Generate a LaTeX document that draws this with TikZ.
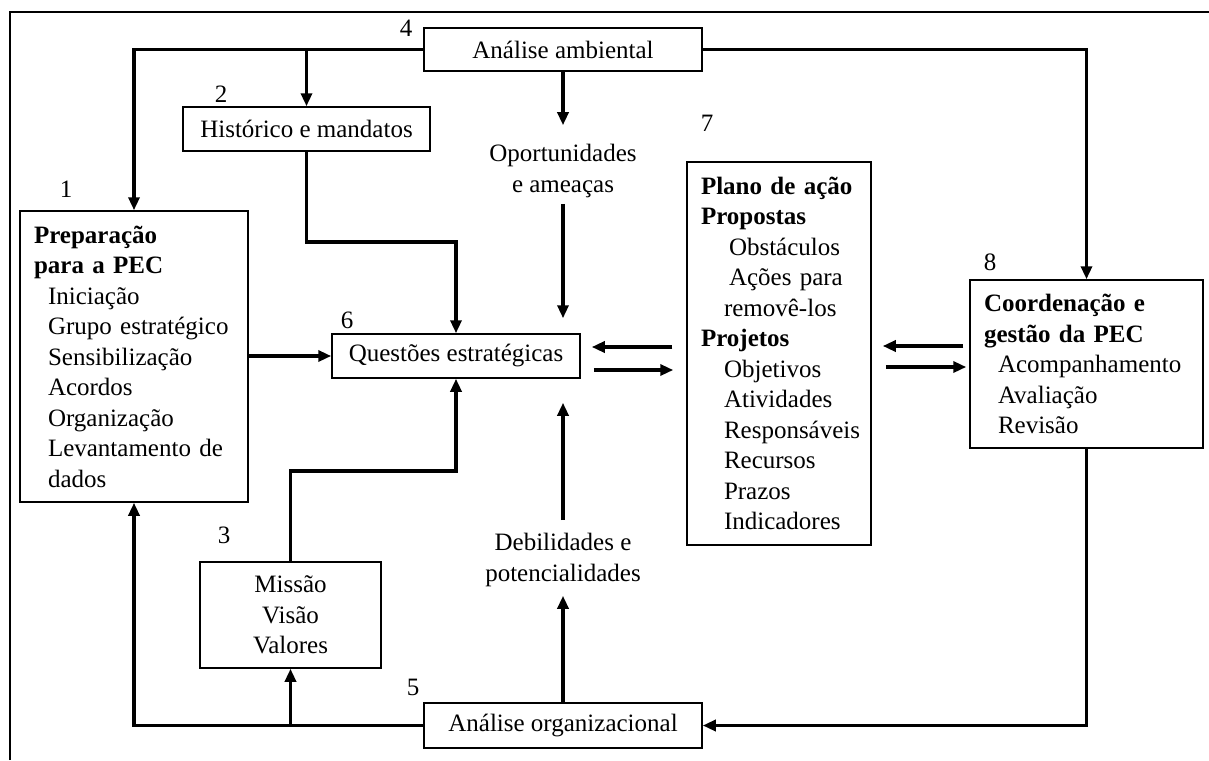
\documentclass[tikz,border=0pt]{standalone}
\usepackage{fontspec}
\setmainfont{Liberation Serif}
\usetikzlibrary{arrows.meta}
\begin{document}
\begin{tikzpicture}[x=1pt,y=-1pt,
  every node/.style={font=\fontsize{25}{30.5}\selectfont},
  box/.style={draw, line width=1.5pt, inner xsep=14pt, inner ysep=0pt, align=center},
  tbox/.style={box, align=left},
  conn/.style={line width=3.5pt, -{Triangle[length=13pt,width=11pt]}},
  num/.style={inner sep=0pt},
  lbl/.style={inner sep=0pt, align=center}]
\useasboundingbox (0,0) rectangle (1209,760);
% frame
\draw[line width=2.8pt] (10,760) -- (10,12) -- (1209,12);

% boxes
\node[box, minimum width=278pt, minimum height=43pt] (a4) at (563,49.5) {Análise ambiental};
\node[box, minimum width=247pt, minimum height=44pt] (b2) at (306.5,129) {Histórico e mandatos};
\node[tbox, text width=200pt, minimum width=228pt, minimum height=291pt] (b1) at (134,356.5)
  {\mbox{\textbf{Preparação}}\\\mbox{\textbf{para a PEC}}\\\mbox{\hspace*{14pt}Iniciação}\\\mbox{\hspace*{14pt}Grupo estratégico}\\\mbox{\hspace*{14pt}Sensibilização}\\\mbox{\hspace*{14pt}Acordos}\\\mbox{\hspace*{14pt}Organização}\\\mbox{\hspace*{14pt}Levantamento de}\\\mbox{\hspace*{14pt}dados}};
\node[box, minimum width=248pt, minimum height=44pt] (qs) at (456,356) {Questões estratégicas};
\node[tbox, text width=156pt, minimum width=184pt, minimum height=383pt] (b7) at (779,353.5)
  {\mbox{\textbf{Plano de ação}}\\\mbox{\textbf{Propostas}}\\\mbox{\hspace*{28pt}Obstáculos}\\\mbox{\hspace*{28pt}Ações para}\\\mbox{\hspace*{23pt}removê-los}\\\mbox{\textbf{Projetos}}\\\mbox{\hspace*{23pt}Objetivos}\\\mbox{\hspace*{23pt}Atividades}\\\mbox{\hspace*{23pt}Responsáveis}\\\mbox{\hspace*{23pt}Recursos}\\\mbox{\hspace*{23pt}Prazos}\\\mbox{\hspace*{23pt}Indicadores}};
\node[tbox, text width=205pt, minimum width=233pt, minimum height=168pt] (b8) at (1086.5,364)
  {\mbox{\textbf{Coordenação e}}\\\mbox{\textbf{gestão da PEC}}\\\mbox{\hspace*{14pt}Acompanhamento}\\\mbox{\hspace*{14pt}Avaliação}\\\mbox{\hspace*{14pt}Revisão}};
\node[box, minimum width=181pt, minimum height=106pt] (b3) at (290.5,615) {Missão\\Visão\\Valores};
\node[box, minimum width=278pt, minimum height=45pt] (a5) at (563,725.5) {Análise organizacional};

% labels
\node[lbl] (op) at (563,171) {Oportunidades\\e ameaças};
\node[lbl] (deb) at (563,560) {Debilidades e\\potencialidades};

% numbers
\node[num] (n1) at (66,189) {1};
\node[num] (n2) at (221,94.5) {2};
\node[num] (n3) at (224,535) {3};
\node[num] (n4) at (406,28.5) {4};
\node[num] (n5) at (413,687) {5};
\node[num] (n6) at (347,320) {6};
\node[num] (n7) at (707,123) {7};
\node[num] (n8) at (990,262.5) {8};

% connectors
\draw[conn] (a4.west) -| (b1.north);
\draw[conn] (b2.north |- a4.west) -- (b2.north);
\draw[conn] (a4.east) -| (b8.north);
\draw[conn, shorten >=19pt] (a4.south) -- (op.north);
\draw[conn, shorten <=6pt, shorten >=15pt] (op.south) -- (op.south |- qs.north);
\coordinate (h2) at (456,242);
\draw[conn] (b2.south) |- (h2) -- (qs.north);
\coordinate (h3) at (456,471);
\draw[conn] (b3.north) |- (h3) -- (qs.south);
\draw[conn] (b1.east |- qs.west) -- (qs.west);
\coordinate (qa) at ([yshift=9pt]qs.east);
\coordinate (qb) at ([yshift=-14pt]qs.east);
\draw[conn, shorten <=14pt, shorten >=11pt] (qa -| b7.west) -- (qa);
\draw[conn, shorten <=13pt, shorten >=13pt] (qb) -- (qb -| b7.west);
\coordinate (ca) at ([yshift=18pt]b8.west);
\coordinate (cb) at ([yshift=-3pt]b8.west);
\draw[conn, shorten <=6pt, shorten >=11pt] (ca) -- (ca -| b7.east);
\draw[conn, shorten <=14pt, shorten >=3pt] (cb -| b7.east) -- (cb);
\draw[conn] (b8.south) |- (a5.east);
\draw[conn] (a5.west) -| (b1.south);
\draw[conn] (b3.south |- a5.west) -- (b3.south);
\draw[conn, shorten >=9pt] (a5.north) -- (deb.south);
\draw[conn, shorten <=13pt, shorten >=24pt] (deb.north) -- (deb.north |- qs.south);
\end{tikzpicture}
\end{document}
